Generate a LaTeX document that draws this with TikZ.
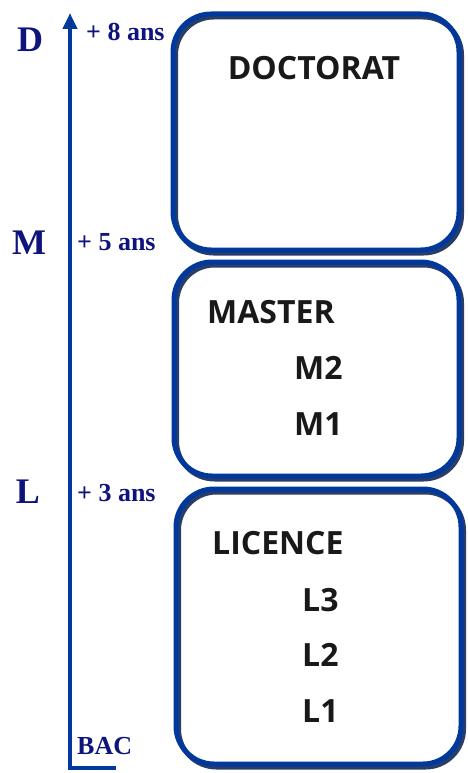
\documentclass[tikz,border=0pt]{standalone}
\usepackage{fontspec}
\setmainfont{Liberation Serif}
\setsansfont{Open Sans}
\usepackage{tikz}
\usetikzlibrary{arrows.meta}
\usetikzlibrary{positioning}
\definecolor{axisblue}{RGB}{0,56,156}
\definecolor{shadeblue}{RGB}{40,62,105}
\definecolor{labelnavy}{RGB}{15,20,125}
\tikzstyle{level}=[
  draw=axisblue, line width=5pt, rounded corners=38pt, inner sep=0pt,
  preaction={draw=shadeblue, line width=5pt, transform canvas={shift={(2.5pt,-3pt)}}}
]
\tikzstyle{degree}=[
  font=\sffamily\bfseries\fontsize{32}{36}\selectfont, inner sep=0pt, text=black!90
]
\tikzstyle{cycle}=[
  font=\bfseries\fontsize{36}{40}\selectfont, text=labelnavy, inner sep=0pt
]
\tikzstyle{years}=[
  font=\bfseries\fontsize{26}{29}\selectfont, text=labelnavy, inner sep=0pt, anchor=west
]
\begin{document}
\begin{tikzpicture}[x=1pt,y=-1pt]
  \useasboundingbox (0,0) rectangle (468,773);
  % boxes
  \node (doc) at (316,132) [level, minimum width=286pt, minimum height=236pt] {};
  \node (mas) at (316.5,369) [level, minimum width=285pt, minimum height=214pt] {};
  \node (lic) at (318.5,626.5) [level, minimum width=285pt, minimum height=275pt] {};
  % axis
  \coordinate (top) at (70,13);
  \coordinate (corner) at (70,768);
  \coordinate (foot) at (116,768);
  \draw [{Triangle[width=14pt,length=16pt]}-, axisblue, line width=4pt] (top) -- (corner) -- (foot);
  % cycles and years
  \node (d) at (30,40) [cycle] {D};
  \node (m) at (29,243) [cycle] {M};
  \node (l) at (28,492) [cycle] {L};
  \node (y8) at (86,32) [years] {+ 8 ans};
  \node (y5) at (77,242) [years] {+ 5 ans};
  \node (y3) at (77,493) [years] {+ 3 ans};
  \node (bac) at (77,746) [years] {BAC};
  % texts in the boxes
  \node (doctorat) at (314,68) [degree] {DOCTORAT};
  \node (master) at (207,312) [degree, anchor=west] {MASTER};
  \node (m2) at (294,368) [degree, anchor=west] {M2};
  \node (m1) at (294,424) [degree, anchor=west] {M1};
  \node (licence) at (212,543) [degree, anchor=west] {LICENCE};
  \node (l3) at (302,600) [degree, anchor=west] {L3};
  \node (l2) at (302,655) [degree, anchor=west] {L2};
  \node (l1) at (302,711) [degree, anchor=west] {L1};
\end{tikzpicture}
\end{document}
